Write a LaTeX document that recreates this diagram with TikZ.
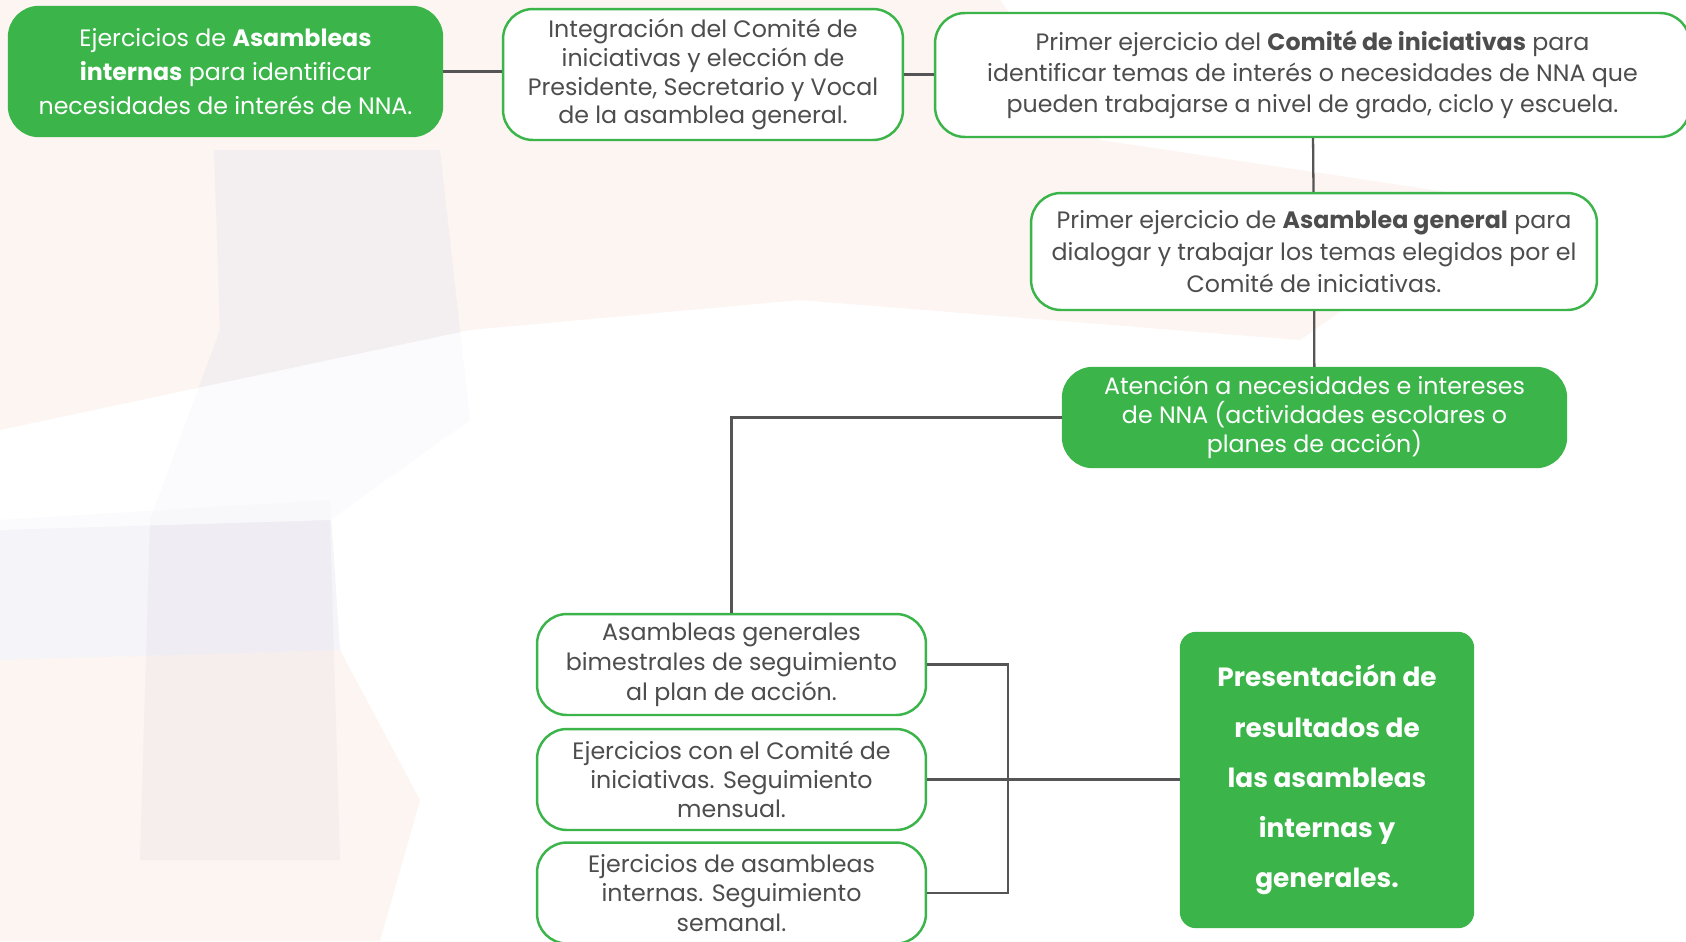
\documentclass[tikz,border=0pt]{standalone}
\usepackage{fontspec}
\setmainfont{Poppins}
\usepackage{xcolor}
\usepackage{tikz}
\definecolor{nnagreen}{RGB}{59,181,74}
\definecolor{nnatext}{RGB}{77,77,77}
\definecolor{nnaline}{RGB}{85,85,85}
\definecolor{bgpeach}{RGB}{247,228,216}
\definecolor{bglilac}{RGB}{228,226,236}
\tikzset{every picture/.style={x=0.02cm,y=-0.02cm},
  box/.style={draw=nnagreen,line width=1.4pt,fill=white,rounded corners=0.6cm,
    align=center,text=nnatext,inner sep=2pt,font=\fontsize{13.5}{17}\selectfont},
  gbox/.style={box,fill=nnagreen,text=white},
  link/.style={draw=nnaline,line width=1.3pt}}

\begin{document}
\begin{tikzpicture}
        \useasboundingbox (0,0) rectangle (1686,941);
        \fill[white] (0,0) rectangle (1686,941);

        % Faded background
        \begin{scope}[fill opacity=0.35]
          \fill[bgpeach] (0,0) -- (1000,0) -- (1100,140) -- (1500,200) -- (1300,340) -- (800,300) -- (470,330) -- (0,430) -- cycle;
          \fill[bglilac] (214,150) -- (440,150) -- (470,420) -- (330,520) -- (340,860) -- (140,860) -- (150,520) -- (220,330) -- cycle;
          \fill[bglilac] (0,520) -- (330,500) -- (340,650) -- (0,660) -- cycle;
          \fill[bgpeach] (0,660) -- (340,650) -- (420,800) -- (380,941) -- (0,941) -- cycle;
        \end{scope}
        \fill[white,fill opacity=0.6] (0,430) -- (470,330) -- (540,450) -- (330,520) -- (0,530) -- cycle;

        % Define the positions of the nodes
        \node[gbox,minimum width=8.66cm,minimum height=2.58cm,font=\fontsize{13.5}{19.3}\selectfont] (a) at (225.5,71.5)
          {Ejercicios de \textbf{Asambleas}\\ \textbf{internas} para identificar\\ necesidades de interés de NNA.};
        \node[box,minimum width=8cm,minimum height=2.62cm,font=\fontsize{13.5}{16.4}\selectfont] (b) at (703,74.5)
          {Integración del Comité de\\ iniciativas y elección de\\ Presidente, Secretario y Vocal\\ de la asamblea general.};
        \node[box,minimum width=15.1cm,minimum height=2.48cm,font=\fontsize{13.5}{17.8}\selectfont] (c) at (1312.5,75)
          {Primer ejercicio del \textbf{Comité de iniciativas} para\\ identificar temas de interés o necesidades de NNA que\\ pueden trabajarse a nivel de grado, ciclo y escuela.};
        \node[box,minimum width=11.32cm,minimum height=2.34cm,font=\fontsize{13.5}{18}\selectfont] (d) at (1314,251.5)
          {Primer ejercicio de \textbf{Asamblea general} para\\ dialogar y trabajar los temas elegidos por el\\ Comité de iniciativas.};
        \node[gbox,minimum width=10.06cm,minimum height=1.98cm,font=\fontsize{13.5}{16.4}\selectfont] (e) at (1314.5,417.5)
          {Atención a necesidades e intereses\\ de NNA (actividades escolares o\\ planes de acción)};
        \node[box,minimum width=7.78cm,minimum height=2.02cm] (f) at (731.5,664.5)
          {Asambleas generales\\ bimestrales de seguimiento\\ al plan de acción.};
        \node[box,minimum width=7.78cm,minimum height=2.02cm,font=\fontsize{13.5}{16.6}\selectfont] (g) at (731.5,779.5)
          {Ejercicios con el Comité de\\ iniciativas. Seguimiento\\ mensual.};
        \node[box,minimum width=7.78cm,minimum height=2.02cm,font=\fontsize{13.5}{16.6}\selectfont] (h) at (731.5,893)
          {Ejercicios de asambleas\\ internas. Seguimiento\\ semanal.};
        \node[gbox,rounded corners=0.3cm,minimum width=5.84cm,minimum height=5.88cm,
          font=\bfseries\fontsize{15}{28.6}\selectfont] (i) at (1327,780)
          {Presentación de\\ resultados de\\ las asambleas\\ internas y\\ generales.};
        \coordinate (j) at (1008,779.5);

        % Draw the edges
        \draw[link] (a.east) -- (b.west |- a.east);
        \draw[link] (b.east) -- (c.west |- b.east);
        \foreach \from/\to in {c/d, d/e} \draw[link] (\from) -- (\to);
        \draw[link] (e.west) -| (f.north);
        \draw[link] (f.east) -| (j) |- (h.east);
        \draw[link] (g.east) -- (i.west |- g.east);
    \end{tikzpicture}
\end{document}
